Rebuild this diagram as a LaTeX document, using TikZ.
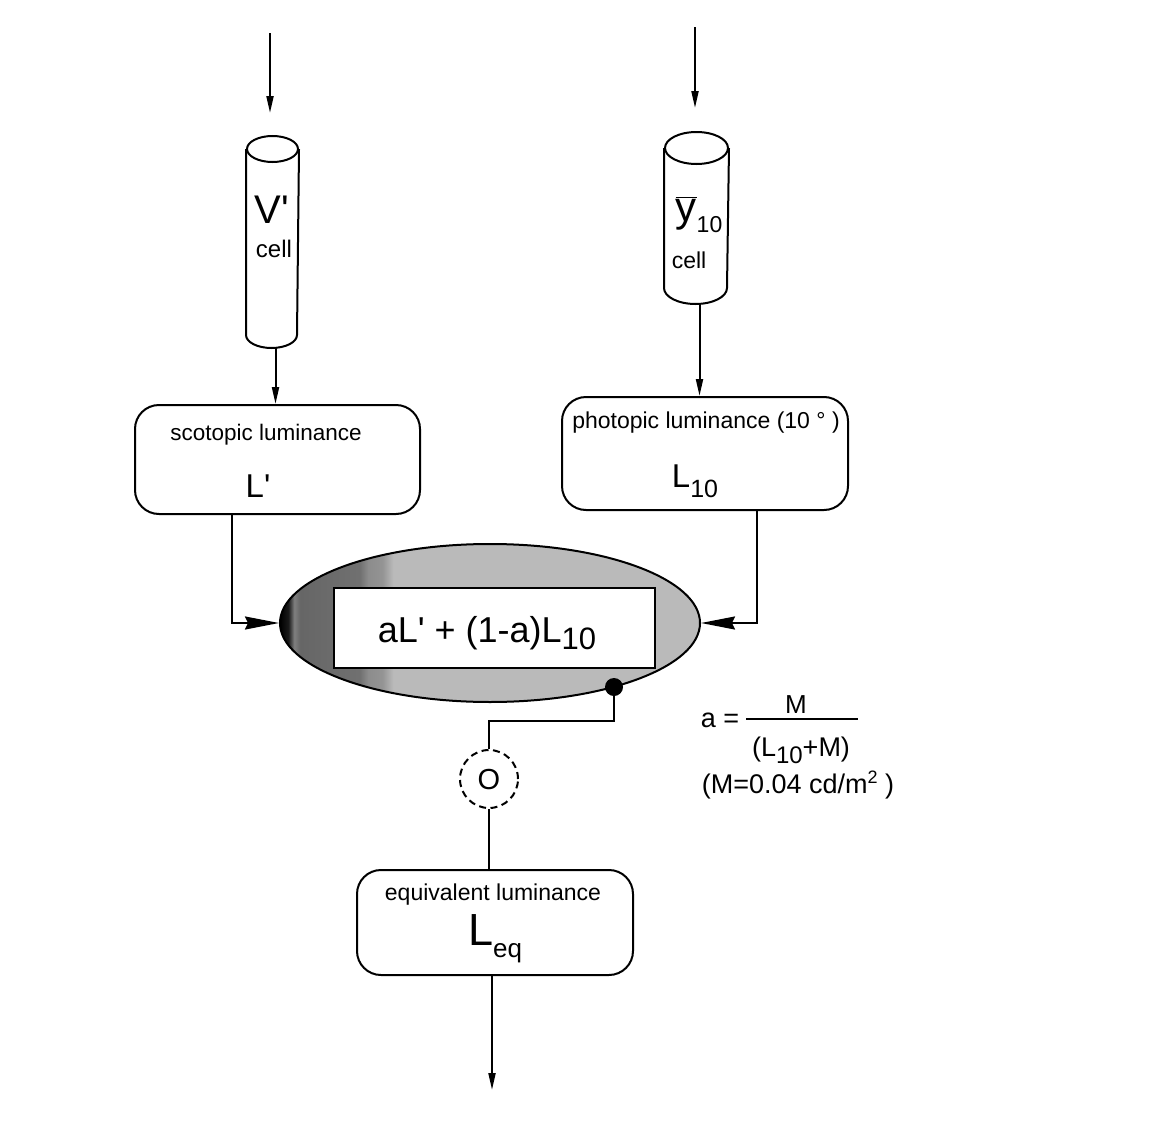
\documentclass[tikz,border=0pt]{standalone}
\usepackage{fontspec}
\setmainfont{Liberation Sans}[Ligatures=TeXOff]
\usetikzlibrary{arrows.meta,calc,shapes.geometric}
\pgfdeclarehorizontalshading{ellshade}{100bp}{color(0bp)=(black); color(25bp)=(black); color(26bp)=(black!90); color(26.7bp)=(black!50); color(27.4bp)=(black!60); color(34.5bp)=(black!56); color(35.5bp)=(black!45); color(37.2bp)=(black!42); color(38.5bp)=(black!27); color(100bp)=(black!27)}
\newcommand\fs[1]{\fontsize{#1}{#1}\selectfont}
\begin{document}
\begin{tikzpicture}[x=1pt,y=1pt,line width=2pt,
  rbox/.style={draw, rounded corners=24pt, inner sep=0pt},
  cylnode/.style={inner sep=0pt, minimum width=#1},
  arr/.style={-{Triangle[length=17pt,width=7pt]}},
  bigarr/.style={-{Stealth[length=34pt,width=13pt,inset=3pt]}},
  txt/.style={inner sep=0pt, anchor=base}
]
\useasboundingbox[fill=white] (0,0) rectangle (1152,-1127);

% ---- cylinders (nodes span from top of lid to bottom of base)
\node[cylnode=51pt, minimum height=210pt] (cylV) at (272.5,-242) {};
\draw (cylV.north west) ++(0,-13) -- ($(cylV.south west)+(0,13)$)
      arc[x radius=25.5, y radius=13, start angle=180, end angle=360]
      -- ($(cylV.north east)+(0,-13)$);
\draw ($(cylV.north)+(0,-13)$) ellipse[x radius=25.5, y radius=13];

\node[cylnode=63pt, minimum height=170pt] (cylY) at (696.5,-218) {};
\draw (cylY.north west) ++(0,-16) -- ($(cylY.south west)+(0,16)$)
      arc[x radius=31.5, y radius=16, start angle=180, end angle=360]
      -- ($(cylY.north east)+(0,-16)$);
\draw ($(cylY.north)+(0,-16)$) ellipse[x radius=31.5, y radius=16];

\node[txt] (Vl) at (272,-223) {\fs{40}V'};
\node[txt] (Vc) at (274,-257) {\fs{24}cell};
\node[txt] (Yl) at (699,-221) {\fs{42}$\overline{\mbox{y}}$\raisebox{-11pt}{\fs{23}10}};
\node[txt] (Yc) at (689,-268) {\fs{23}cell};

% ---- boxes
\node[rbox, minimum width=285pt, minimum height=109pt] (scot) at (277.5,-459.5) {};
\node[txt] (scotT) at (266,-440) {\fs{22.5}scotopic luminance};
\node[txt] (scotL) at (258,-497) {\fs{33}L'};

\node[rbox, minimum width=286pt, minimum height=113pt] (phot) at (705,-453.5) {};
\node[txt] (photT) at (706,-428) {\fs{23}photopic luminance (10 ° )};
\node[txt] (photL) at (695,-487) {\fs{33}L\raisebox{-10pt}{\fs{25}10}};

\node[rbox, minimum width=276pt, minimum height=105pt] (equiv) at (495,-922.5) {};
\node[txt] (eqT) at (493,-900) {\fs{23}equivalent luminance};
\node[txt] (eqL) at (495,-945) {\fs{45}L\raisebox{-12pt}{\fs{26}eq}};

% ---- combining ellipse
\node[ellipse, draw, shading=ellshade, minimum width=420pt, minimum height=158pt, inner sep=0pt] (ell) at (490,-623) {};
\node[draw, fill=white, minimum width=321pt, minimum height=80pt, inner sep=0pt] (form) at (494.5,-628) {};
\node[txt] (formT) at (487,-642) {\fs{36}aL' + (1-a)L\raisebox{-7pt}{\fs{31}10}};
\node[circle, fill=black, minimum size=18pt, inner sep=0pt] (dot) at (614,-687) {};

% ---- switch
\node[circle, draw, dash pattern=on 7pt off 4.5pt, minimum size=58pt, inner sep=0pt] (sw) at (489,-779) {};
\node[inner sep=0pt] (swO) at (489,-780) {\fs{29}O};

% ---- formula a
\node[txt] (aeq) at (720,-727) {\fs{27}a =};
\coordinate (barL) at (746,-719);
\coordinate (barR) at (858,-719);
\draw[line width=1.5pt] (barL) -- (barR);
\node[txt] (num) at (796,-713) {\fs{26}M};
\node[txt] (den) at (801,-756) {\fs{27}(L\raisebox{-7pt}{\fs{24}10}+M)};
\node[txt] (Mval) at (798,-793) {\fs{27}(M=0.04 cd/m\raisebox{10pt}{\fs{18}2} )};

% ---- connectors
\coordinate (inV) at (270,-33);
\draw[arr] (inV) -- (270,-113);
\coordinate (inY) at (695,-27);
\draw[arr] (inY) -- (695,-108);
\coordinate (vOut) at ($(cylV.south)+(3,0)$);
\draw[arr] (vOut) -- (vOut |- scot.north);
\coordinate (yOut) at ($(cylY.south)+(3,0)$);
\draw[arr] (yOut) -- (yOut |- phot.north);
\draw[bigarr] ($(scot.south west)!0.34!(scot.south east)$) |- (ell.west);
\draw[bigarr] ($(phot.south west)!0.68!(phot.south east)$) |- (ell.east);
\coordinate (bend) at (614,-721);
\draw (dot.center) -- (bend) -| (sw.north);
\draw (sw.south) -- (sw.south |- equiv.north);
\coordinate (out) at (492,-1090);
\draw[arr] (equiv.south -| out) -- (out);
\end{tikzpicture}
\end{document}
